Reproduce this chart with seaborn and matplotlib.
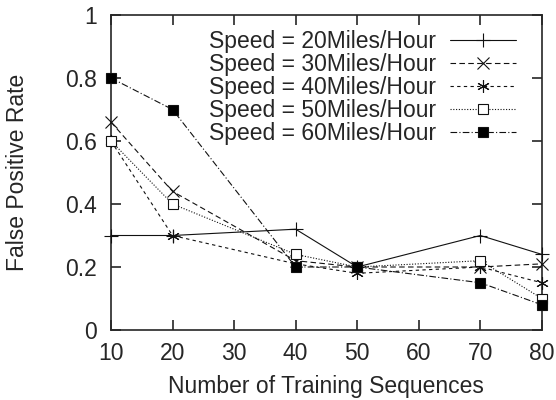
import pandas as pd
import matplotlib
matplotlib.use("Agg")
import matplotlib.pyplot as plt
import seaborn as sns

# dados
sequences = [10, 20, 40, 50, 70, 80]
labels = ["Speed = 20Miles/Hour", "Speed = 30Miles/Hour", "Speed = 40Miles/Hour",
          "Speed = 50Miles/Hour", "Speed = 60Miles/Hour"]
fpr_20 = [0.30, 0.30, 0.32, 0.20, 0.30, 0.24]
fpr_30 = [0.66, 0.44, 0.22, 0.20, 0.20, 0.21]
fpr_40 = [0.60, 0.30, 0.21, 0.18, 0.20, 0.15]
fpr_50 = [0.60, 0.40, 0.24, 0.20, 0.22, 0.10]
fpr_60 = [0.80, 0.70, 0.20, 0.20, 0.15, 0.08]

series = [fpr_20, fpr_30, fpr_40, fpr_50, fpr_60]

sns.set_style("ticks")
plt.rcParams['font.family'] = ['Liberation Sans', 'DejaVu Sans']
fs = 16.5

fig = plt.figure(figsize=(5.56, 4.0), dpi=100)
ax = fig.add_axes([0.1996, 0.175, 0.775, 0.7875])

estilos = [
    dict(linestyle='-', marker='+', ms=10, mfc='none'),
    dict(linestyle=(0, (5, 3)), marker='x', ms=8, mfc='none'),
    dict(linestyle=(0, (3, 3)), marker=(6, 2, 0), ms=9, mfc='none'),
    dict(linestyle=(0, (1, 1.5)), marker='s', ms=7.5, mfc='white'),
    dict(linestyle=(0, (6, 2, 1, 2)), marker='s', ms=7.5, mfc='black'),
]

for vals, lab, st in zip(series, labels, estilos):
    df = pd.DataFrame({'x': sequences, 'y': vals})
    sns.lineplot(data=df, x='x', y='y', ax=ax, color='#111111', lw=0.8,
                 mec='#111111', mew=0.8, label=lab, clip_on=False, zorder=3, **st)

ax.set_xlim(10, 80)
ax.set_ylim(0, 1)
ax.set_xticks(range(10, 81, 10))
ax.set_yticks([0, 0.2, 0.4, 0.6, 0.8, 1])
ax.set_yticklabels(['0', '0.2', '0.4', '0.6', '0.8', '1'])
ax.tick_params(direction='in', length=7, width=1.2, labelsize=fs,
               top=True, right=True)
ax.tick_params(axis='y', pad=10)
ax.tick_params(axis='x', pad=9)
for s in ax.spines.values():
    s.set_linewidth(1.2)
ax.set_xlabel("Number of Training Sequences", fontsize=fs, labelpad=7)
ax.set_ylabel("False Positive Rate", fontsize=fs, labelpad=26)

ax.legend(loc='upper right', bbox_to_anchor=(0.94, 0.952), frameon=False,
          markerfirst=False, fontsize=fs, handlelength=2.9, labelspacing=0.0,
          borderaxespad=0, borderpad=0, handletextpad=0.6)

fig.savefig("out.png", dpi=100)
